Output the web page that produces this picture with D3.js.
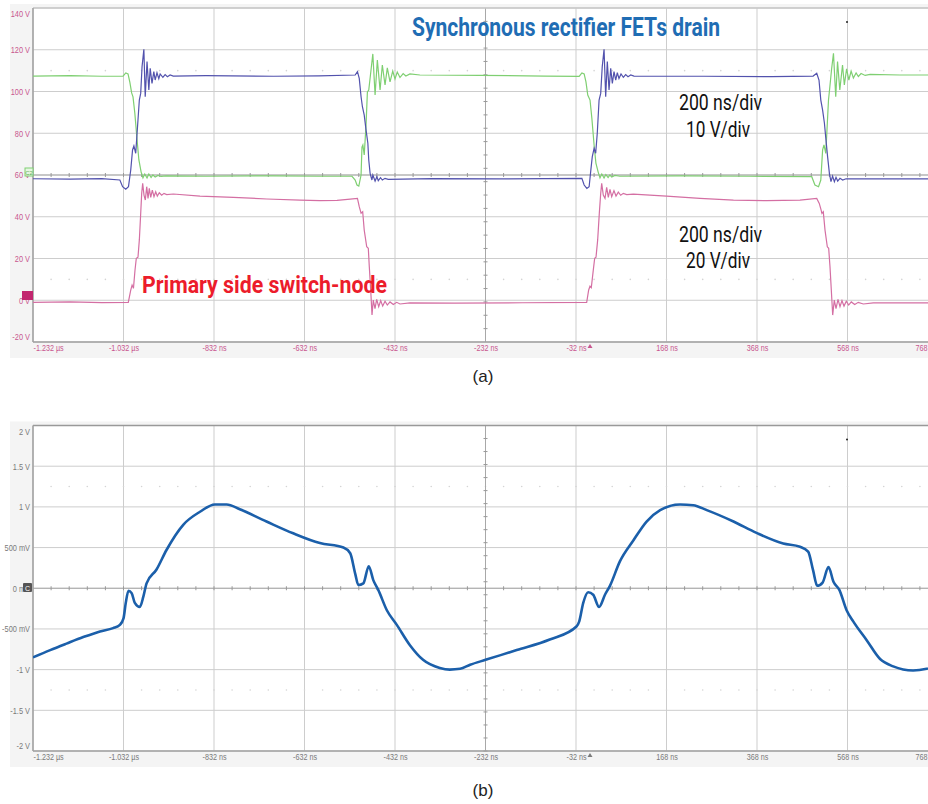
<!doctype html>
<html>
  <head>
    <meta charset="utf-8">
    <title>SR FET drain, switch node and current waveforms</title>
    <script src="https://cdnjs.cloudflare.com/ajax/libs/d3/7.8.5/d3.min.js"></script>
    <style>
      body { margin: 0; background: #fff; }
      svg { display: block; font-family: "Liberation Sans", Arial, sans-serif; }
      .tick text { font-family: "Liberation Sans", Arial, sans-serif; font-size: 9px; }
      .cond { font-family: "Liberation Sans Narrow", "Arial Narrow", "Roboto", sans-serif; }
    </style>
  </head>
  <body>
    <div id="chart"></div>
    <script>
      // time axis (ns) shared by both panels
      const timeTicks = [-1232, -1032, -832, -632, -432, -232, -32, 168, 368, 568, 768];
      const timeLabels = ['-1.232 µs', '-1.032 µs', '-832 ns', '-632 ns', '-432 ns', '-232 ns',
                          '-32 ns', '168 ns', '368 ns', '568 ns', '768 ns'];

      // panel (a) vertical axis
      const voltTicksA = [140, 120, 100, 80, 60, 40, 20, 0, -20];
      const voltLabelsA = ['140 V', '120 V', '100 V', '80 V', '60 V', '40 V', '20 V', '0 V', '-20 V'];

      // panel (b) vertical axis
      const voltTicksB = [2, 1.5, 1, 0.5, 0, -0.5, -1, -1.5, -2];
      const voltLabelsB = ['2 V', '1.5 V', '1 V', '500 mV', '0 mV', '-500 mV', '-1 V', '-1.5 V', '-2 V'];

      // SR FET drain #1 (green)  [ns, V]
      const drainGreen = [
        [-1232,107.4],[-1150,107.6],[-1080,107.3],[-1033,107.4],[-1027,108.9],[-1022,108.4],[-1018,104.5],
        [-1014,99.3],[-1011,97.4],[-1007,89.7],[-1002,76.8],[-998,67.2],[-993,61.4],[-989,58.6],[-985,60.5],
        [-980,58.6],[-976,60.5],[-971,58.8],[-967,60.0],[-962,59.0],[-956,59.8],[-949,59.3],[-938,59.6],
        [-850,59.4],[-700,59.6],[-600,59.4],[-527,59.4],[-520,57.6],[-516,55.2],[-512,54.7],[-507,60.0],
        [-505,73.4],[-503,74.4],[-500,69.6],[-496,84],[-493,99.8],[-490,100.7],[-485,110.3],[-481,118],
        [-476,98.3],[-471,115.1],[-465,100.7],[-460,112.7],[-454,103.1],[-449,111.3],[-443,104.6],[-437,109.8],
        [-432,106],[-427,109.3],[-421,106.7],[-414,108.6],[-408,107.4],[-399,108.4],[-377,107.9],[-244,107.7],
        [-100,107.4],[-25,107.2],[-19,108.9],[-14,108.4],[-10,104.6],[-6,98.3],[-1,95.9],[3,87.3],[8,74.4],
        [12,65.7],[17,61.4],[21,58.6],[25,60.5],[30,58.6],[34,60.2],[39,58.8],[43,60],[47,59],[54,59.8],
        [65,59.4],[200,59.6],[350,59.4],[489,59.2],[496,55.2],[504,54.4],[509,57.6],[513,72],[516,74.4],
        [520,70.3],[526,95.9],[529,102.3],[533,111],[537,118.3],[542,97.5],[546,114.3],[551,100.7],[557,112.7],
        [561,103.1],[566,110.8],[571,105.5],[576,109.8],[581,106.5],[587,108.9],[592,107.2],[598,108.6],
        [607,107.7],[618,108.2],[684,107.9],[768,107.9]
      ];

      // SR FET drain #2 (blue)  [ns, V]
      const drainBlue = [
        [-1232,58.2],[-1150,58.0],[-1080,58.3],[-1040,57.6],[-1034,54.4],[-1027,53.2],[-1021,54.4],[-1016,62.4],
        [-1012,72],[-1009,73.9],[-1005,70.4],[-1002,80],[-997,95.9],[-994,99.1],[-991,111.9],[-987,120.2],
        [-984,97.5],[-980,114.3],[-976,100.7],[-973,111.1],[-969,103.9],[-965,109.5],[-962,105.5],[-958,109],
        [-954,106.2],[-951,108.4],[-945,106.8],[-940,108.1],[-935,107.1],[-929,107.9],[-922,107.4],[-850,107.6],
        [-700,107.3],[-600,107.5],[-520,107.9],[-515,109.5],[-511,106.3],[-507,97.5],[-504,92.7],[-500,88.7],
        [-496,81.6],[-492,75.2],[-490,67.2],[-487,60.8],[-483,57.6],[-481,60],[-476,57.1],[-472,59.2],
        [-469,57.3],[-464,58.7],[-460,57.6],[-454,58.4],[-447,57.9],[-350,58.3],[-200,58.1],[-100,58.3],
        [-19,58.4],[-14,55.2],[-8,53.6],[-3,54.4],[1,62.8],[4,68.8],[8,72.8],[11.5,70.4],[15,80],[19,95.9],
        [22.6,99.1],[26,111.9],[30,120.2],[33.6,97.5],[37.2,114.3],[41,100.7],[44.7,111.1],[48.3,103.9],
        [52,109.5],[55.8,105.5],[59.3,109],[63,106.2],[67.5,108.4],[72.6,106.8],[77.8,108.1],[82.9,107.1],
        [88.9,107.9],[96.2,107.4],[250,107.3],[400,107.1],[492,107.4],[500,108.7],[505,105.5],[509,95.9],
        [513,91.1],[517,84.8],[520.5,76.6],[524,68.8],[528,60.8],[531.5,56.8],[535,59.5],[539,56.8],
        [542.6,58.9],[546.3,57.1],[551.4,58.4],[557.4,57.6],[564.7,58.2],[650,58.1],[768,58.1]
      ];

      // primary side switch-node (pink)  [ns, V]
      const switchNode = [
        [-1232,-1.0],[-1150,-0.8],[-1080,-1.1],[-1021.4,-1.0],[-1016,4.9],[-1013,7.3],[-1010,5.7],[-1006.6,14.4],
        [-1003.7,20.1],[-1000,20.6],[-997,28.9],[-994,41.6],[-991.8,51.2],[-989.6,56],[-986.7,50.4],[-983.8,48],
        [-980.7,54.4],[-977.8,48.8],[-975,53.6],[-971.8,49.3],[-968.3,52.8],[-964.6,49.6],[-960.8,52],
        [-957.3,49.9],[-952.9,51.5],[-947.6,50.3],[-942.5,51.2],[-936.5,50.6],[-921.9,50.9],[-863,49.9],
        [-789,49.3],[-715,48.5],[-642,48],[-598,47.7],[-560,47.8],[-531,48.4],[-515,48.8],[-511,44.8],
        [-507,41.7],[-503.4,42.4],[-500,33.6],[-494.5,25.6],[-491,24.9],[-488.8,16.1],[-485.7,4.9],
        [-482.8,-7.1],[-480,0.1],[-476.2,-4],[-472.5,0.4],[-468,-3.1],[-463.6,-0.2],[-459.2,-2.8],[-454,-0.5],
        [-449,-2.3],[-443,-0.8],[-435.7,-2],[-428.3,-1],[-421,-1.8],[-399,-1.3],[-300,-1.4],[-150,-1.2],
        [-8.4,-1.0],[-4,4.9],[-1.1,6.7],[1.8,6],[6.2,14.4],[9.3,20.1],[12.2,20.6],[15.9,28.9],[19.5,41.6],
        [22.6,51.2],[24.8,56],[28.3,50.4],[32.1,48.8],[35.8,54.1],[39.4,49.3],[43.1,53.1],[46.9,49.6],
        [51.9,52.5],[56.4,49.9],[61.5,51.8],[66.8,50.3],[72.6,51.2],[80.1,50.6],[94.7,50.8],[168,49.9],
        [242,48.8],[316,48],[389,47.7],[463,48],[500,48.8],[505.6,46.4],[508.7,44],[511.6,41.6],[514.5,42.4],
        [518.3,33.6],[523.4,25.6],[526.4,24.9],[529.3,16.1],[532.2,4.9],[535.3,-7.1],[538.8,0.1],[542.6,-4],
        [547,0.4],[551.4,-3.1],[555.8,-0.2],[560.3,-2.8],[565.3,-0.5],[570.6,-2.3],[576.4,-0.8],[583.9,-2],
        [591.8,-1],[603,-1.8],[625,-1.3],[768,-1.3]
      ];

      // SR current probe (panel b)  [ns, V]
      const srCurrent = [
        [-1232,-0.85],[-1194,-0.76],[-1158,-0.68],[-1121,-0.60],[-1084,-0.53],[-1055,-0.49],[-1040,-0.45],
        [-1032,-0.37],[-1027,-0.18],[-1021,-0.03],[-1014,-0.06],[-1007,-0.18],[-996,-0.23],[-988,-0.10],
        [-981,0.06],[-959,0.23],[-937,0.47],[-900,0.78],[-863,0.94],[-830,1.03],[-804,1.03],[-775,0.97],
        [-716,0.82],[-657,0.675],[-598,0.555],[-546,0.50],[-531,0.43],[-520,0.18],[-513,0.04],[-502,0.06],
        [-490,0.27],[-480,0.10],[-469,-0.02],[-450,-0.27],[-428,-0.45],[-399,-0.70],[-370,-0.88],[-333,-0.98],
        [-311,-1.00],[-288,-0.99],[-266,-0.94],[-232,-0.88],[-163,-0.76],[-90,-0.63],[-31,-0.47],[-25,-0.41],
        [-16,-0.18],[-5,-0.05],[6,-0.08],[19,-0.23],[32,-0.08],[43,0.03],[65,0.33],[95,0.59],[124,0.82],
        [154,0.96],[198,1.03],[227,1.02],[257,0.96],[316,0.82],[367,0.68],[426,0.55],[463,0.51],[481,0.45],
        [492,0.22],[501,0.03],[513,0.07],[526,0.26],[537,0.08],[550,-0.02],[566,-0.27],[581,-0.41],
        [610,-0.635],[640,-0.87],[669,-0.96],[713,-1.01],[743,-0.99],[768,-0.95]
      ];

      const W = 928, H = 804;
      const svg = d3.select('#chart').append('svg')
        .attr('width', W).attr('height', H)
        .style('overflow', 'hidden');

      const x = d3.scaleLinear().domain([-1232, 768]).range([33, 938]);
      const yA = d3.scaleLinear().domain([-20, 140]).range([342, 8]);
      const yB = d3.scaleLinear().domain([-2, 2]).range([751, 425.5]);

      // squeeze small scope labels to look condensed
      function narrow(sel, k) {
        sel.each(function () {
          const len = this.getComputedTextLength();
          d3.select(this).attr('textLength', len * k).attr('lengthAdjust', 'spacingAndGlyphs');
        });
      }

      function drawPanel(opt) {
        const { y, ticks, labels, color, center, dotRows, topColor } = opt;
        const g = svg.append('g');
        const [y0, y1] = y.range(); // bottom, top
        const step = (x(timeTicks[1]) - x(timeTicks[0])) / 5;
        const vstep = (y0 - y1) / 40;

        // light frame behind the plot
        g.append('rect').attr('x', 10).attr('y', y1 - 4).attr('width', W - 10).attr('height', y0 - y1 + 20)
          .attr('fill', '#f4f4f4');
        g.append('rect').attr('x', 33).attr('y', y1).attr('width', W - 33).attr('height', y0 - y1)
          .attr('fill', '#fff');

        // major grid
        g.append('g').selectAll('line').data(timeTicks).join('line')
          .attr('x1', d => x(d)).attr('x2', d => x(d)).attr('y1', y1).attr('y2', y0)
          .attr('stroke', '#cdcdcd');
        g.append('g').selectAll('line').data(ticks).join('line')
          .attr('x1', 33).attr('x2', W).attr('y1', d => y(d)).attr('y2', d => y(d))
          .attr('stroke', '#cdcdcd');

        // dotted rows
        const dotXs = d3.range(x(-1232) + step, W, step);
        dotRows.forEach(v => {
          g.append('g').selectAll('circle').data(dotXs).join('circle')
            .attr('cx', d => d).attr('cy', y(v)).attr('r', 0.8).attr('fill', '#d4d4d4');
        });

        // centre cross with minor ticks
        const cx = x(-232), cy = y(center);
        g.append('line').attr('x1', cx).attr('x2', cx).attr('y1', y1).attr('y2', y0).attr('stroke', '#a8a8a8');
        g.append('line').attr('x1', 33).attr('x2', W).attr('y1', cy).attr('y2', cy).attr('stroke', '#a8a8a8');
        g.append('g').selectAll('line').data(d3.range(y1 + vstep * 8 / 5, y0, vstep * 8 / 5)).join('line')
          .attr('x1', cx - 2).attr('x2', cx + 2).attr('y1', d => d).attr('y2', d => d).attr('stroke', '#999');
        g.append('g').selectAll('line').data(dotXs).join('line')
          .attr('x1', d => d).attr('x2', d => d).attr('y1', cy - 2).attr('y2', cy + 2).attr('stroke', '#999');

        // frame lines
        g.append('line').attr('x1', 33).attr('x2', W).attr('y1', y1).attr('y2', y1)
          .attr('stroke', topColor).attr('stroke-width', 1.5);
        g.append('line').attr('x1', 33).attr('x2', 33).attr('y1', y1).attr('y2', y0)
          .attr('stroke', '#a0a0a0').attr('stroke-width', 1.5);
        g.append('line').attr('x1', 33).attr('x2', W).attr('y1', y0).attr('y2', y0)
          .attr('stroke', '#a0a0a0').attr('stroke-width', 1.5);

        // axes
        const ax = g.append('g').attr('transform', `translate(0,${y0})`)
          .call(d3.axisBottom(x).tickValues(timeTicks).tickFormat((d, i) => timeLabels[i]).tickSize(0).tickPadding(3));
        ax.select('.domain').remove();
        ax.selectAll('text').attr('fill', color).call(narrow, 0.8);
        ax.select('.tick text').attr('text-anchor', 'start');
        // last label is pulled in so it stays partly on screen
        ax.selectAll('.tick text').filter((d, i) => i === timeTicks.length - 1)
          .attr('text-anchor', 'start').attr('dx', -23);

        const ay = g.append('g').attr('transform', 'translate(33,0)')
          .call(d3.axisLeft(y).tickValues(ticks).tickFormat((d, i) => labels[i]).tickSize(0).tickPadding(3));
        ay.select('.domain').remove();
        ay.selectAll('text').attr('fill', color).call(narrow, 0.82);
        ay.selectAll('.tick text').filter((d, i) => i === 0).attr('dy', '0.95em');
        ay.selectAll('.tick text').filter((d, i) => i === ticks.length - 1).attr('dy', '-0.3em');

        // trigger marker
        g.append('path').attr('d', `M${x(-32) + 14},${y0 + 2} l-2.5,4 h5 z`).attr('fill', color);
        // small mark near top
        g.append('circle').attr('cx', 847).attr('cy', y1 + 14).attr('r', 1).attr('fill', '#222');
        return g;
      }

      // ---------- panel (a)
      drawPanel({ y: yA, ticks: voltTicksA, labels: voltLabelsA, color: '#c8568f',
                  center: 60, dotRows: [110, 10], topColor: '#c8c8c8' });

      const lineA = d3.line().x(d => x(d[0])).y(d => yA(d[1]));
      svg.append('clipPath').attr('id', 'clipA').append('rect')
        .attr('x', 33).attr('y', 8).attr('width', W - 33).attr('height', 334);
      const tracesA = svg.append('g').attr('clip-path', 'url(#clipA)');
      tracesA.append('path').datum(switchNode).attr('d', lineA)
        .attr('fill', 'none').attr('stroke', '#d46fa3').attr('stroke-width', 1.2);
      tracesA.append('path').datum(drainGreen).attr('d', lineA)
        .attr('fill', 'none').attr('stroke', '#7fcf72').attr('stroke-width', 1.2);
      tracesA.append('path').datum(drainBlue).attr('d', lineA)
        .attr('fill', 'none').attr('stroke', '#5252ad').attr('stroke-width', 1.2);

      // channel markers
      svg.append('rect').attr('x', 25).attr('y', 168).attr('width', 8).attr('height', 8)
        .attr('fill', '#e6f6e2').attr('stroke', '#7fcf72');
      svg.append('text').attr('x', 29).attr('y', 174.5).attr('text-anchor', 'middle')
        .attr('font-size', 6).attr('fill', '#5fae55').text('C2');
      svg.append('rect').attr('x', 22).attr('y', 291).attr('width', 11).attr('height', 9)
        .attr('fill', '#c2266f');

      // annotations (a)
      svg.append('text').attr('class', 'cond').attr('x', 412).attr('y', 36)
        .attr('font-size', 25).attr('font-weight', 'bold').attr('fill', '#1f6db4')
        .attr('textLength', 308).attr('lengthAdjust', 'spacingAndGlyphs')
        .text('Synchronous rectifier FETs drain');
      svg.append('text').attr('class', 'cond').attr('x', 142).attr('y', 293)
        .attr('font-size', 23).attr('font-weight', 'bold').attr('fill', '#ec1c2b')
        .attr('textLength', 245).attr('lengthAdjust', 'spacingAndGlyphs')
        .text('Primary side switch-node');

      const notes = [
        { x: 679, y: 110, w: 83, t: '200 ns/div' },
        { x: 686, y: 137, w: 64, t: '10 V/div' },
        { x: 679, y: 242, w: 83, t: '200 ns/div' },
        { x: 686, y: 268, w: 64, t: '20 V/div' },
        { x: 506, y: 472, w: 84, t: '200ns/div' },
        { x: 516, y: 502, w: 66, t: '22A/div' }
      ];
      svg.append('g').selectAll('text').data(notes).join('text').attr('class', 'cond')
        .attr('x', d => d.x).attr('y', d => d.y).attr('font-size', 22).attr('fill', '#111')
        .attr('textLength', d => d.w).attr('lengthAdjust', 'spacingAndGlyphs')
        .text(d => d.t);

      svg.append('text').attr('x', 483).attr('y', 382).attr('text-anchor', 'middle')
        .attr('font-size', 17).attr('fill', '#222').text('(a)');

      // ---------- panel (b)
      drawPanel({ y: yB, ticks: voltTicksB, labels: voltLabelsB, color: '#7a7a7a',
                  center: 0, dotRows: [1.25, -1.25], topColor: '#999' });

      const lineB = d3.line().x(d => x(d[0])).y(d => yB(d[1])).curve(d3.curveMonotoneX);
      svg.append('clipPath').attr('id', 'clipB').append('rect')
        .attr('x', 33).attr('y', 425.5).attr('width', W - 33).attr('height', 325.5);
      svg.append('g').attr('clip-path', 'url(#clipB)')
        .append('path').datum(srCurrent).attr('d', lineB)
        .attr('fill', 'none').attr('stroke', '#1b5faa').attr('stroke-width', 2.6)
        .attr('stroke-linejoin', 'round');

      svg.append('rect').attr('x', 23).attr('y', 583).attr('width', 9).attr('height', 9).attr('rx', 1)
        .attr('fill', '#555');
      svg.append('text').attr('x', 27.5).attr('y', 590.5).attr('text-anchor', 'middle')
        .attr('font-size', 7).attr('fill', '#fff').text('C');

      svg.append('text').attr('x', 483).attr('y', 796).attr('text-anchor', 'middle')
        .attr('font-size', 17).attr('fill', '#222').text('(b)');
    </script>
  </body>
</html>
